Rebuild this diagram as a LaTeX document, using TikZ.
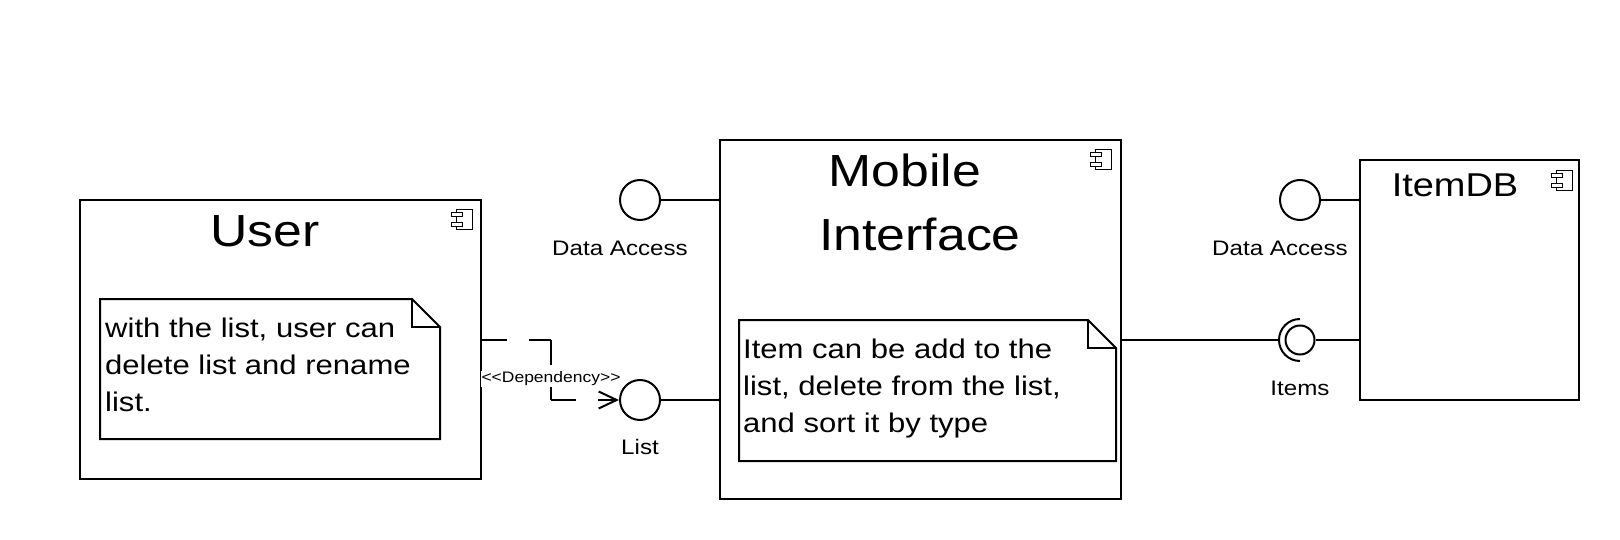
\documentclass[tikz,border=0pt]{standalone}
\usepackage{fontspec}
\setmainfont{Liberation Sans}[FakeStretch=1.15]
\usetikzlibrary{arrows.meta}
\begin{document}
\begin{tikzpicture}[x=1pt,y=-1pt,
  compbox/.style={draw, line width=2pt, rectangle, inner sep=0pt, fill=white},
  iface/.style={draw, line width=2pt, circle, inner sep=0pt, minimum size=40pt, fill=white},
  ballnode/.style={draw, line width=2pt, circle, inner sep=0pt, minimum size=29pt, fill=white},
  conn/.style={line width=2pt},
  dep/.style={line width=2pt, dash pattern=on 25pt off 22pt},
  notebox/.style={line width=2pt, fill=white},
  titlefont/.style={font=\fontsize{45}{64}\selectfont},
  notetext/.style={anchor=north west, align=left, inner sep=0pt, font=\fontsize{27}{37}\selectfont},
  lbl/.style={anchor=base, inner sep=0pt, font=\fontsize{21}{25}\selectfont},
  compicon/.pic={
    \draw[line width=1pt, fill=white] (5,0) rectangle (21,20);
    \draw[line width=1pt, fill=white] (0,2.7) rectangle (11,6.7);
    \draw[line width=1pt, fill=white] (0,12.7) rectangle (11,16.7);
  }]
\fill[white] (0,0) rectangle (1620,540);
\useasboundingbox (0,0) rectangle (1620,540);

% components
\node[compbox, minimum width=401pt, minimum height=279pt] (user) at (280.5,339.5) {};
\node[compbox, minimum width=401pt, minimum height=359pt] (mob) at (920.5,319.5) {};
\node[compbox, minimum width=219pt, minimum height=240pt] (db) at (1469.5,280) {};

\pic at (451,210) {compicon};
\pic at (1090,150) {compicon};
\pic at (1551,171) {compicon};

\node[titlefont, anchor=base, inner sep=0pt] (usert) at (265,247) {User};
\node[titlefont, anchor=north, align=center, inner sep=0pt] (mobt) at (920,154) {Mobile\hspace*{30pt}\\Interface};
\node[anchor=base, inner sep=0pt, font=\fontsize{33}{40}\selectfont] (dbt) at (1455,197) {ItemDB};

% notes
\coordinate (n1nw) at (100,299);
\coordinate (n1se) at (440,439);
\draw[notebox] (n1nw) -- ([xshift=-28pt]n1nw -| n1se) -- ([yshift=-28pt]n1nw -| n1se) -- (n1se) -- (n1nw |- n1se) -- cycle;
\draw[line width=2pt] ([xshift=-28pt]n1nw -| n1se) -- ([xshift=-28pt,yshift=-28pt]n1nw -| n1se) -- ([yshift=-28pt]n1nw -| n1se);
\node[notetext] (n1t) at (105,318) {with the list, user can\\delete list and rename\\list.};

\coordinate (n2nw) at (739,320);
\coordinate (n2se) at (1116,461);
\draw[notebox] (n2nw) -- ([xshift=-28pt]n2nw -| n2se) -- ([yshift=-28pt]n2nw -| n2se) -- (n2se) -- (n2nw |- n2se) -- cycle;
\draw[line width=2pt] ([xshift=-28pt]n2nw -| n2se) -- ([xshift=-28pt,yshift=-28pt]n2nw -| n2se) -- ([yshift=-28pt]n2nw -| n2se);
\node[notetext] (n2t) at (743,339) {Item can be add to the\\list, delete from the list,\\and sort it by type};

% interfaces
\node[iface] (da1) at (640,200) {};
\node[iface] (lst) at (640,400) {};
\node[iface] (da2) at (1300,200) {};
\node[ballnode] (itm) at (1300,340) {};

\draw[conn] (da1) -- (da1 -| mob.west);
\draw[conn] (lst) -- (lst -| mob.west);
\draw[conn] (da2) -- (da2 -| db.west);
\draw[conn] (itm) -- (itm -| db.west);
\coordinate (sock) at ([xshift=-21pt]itm.center);
\draw[conn] (mob.east |- itm) -- (sock);
\draw[conn] ([yshift=21pt]itm.center) arc[start angle=90, end angle=270, radius=21pt];

\node[lbl] (da1l) at (620,255) {Data Access};
\node[lbl] (lstl) at (640,454) {List};
\node[lbl] (da2l) at (1280,255) {Data Access};
\node[lbl] (itml) at (1300,395) {Items};

% dependency
\coordinate (c1) at (551,340);
\coordinate (c2) at (551,400);
\draw[dep] (user.east |- c1) -- (c1);
\draw[dep] (c1) -- (c2);
\draw[dep, -{Straight Barb[length=18pt,width=17pt]}] (c2) -- (lst.west);
\node[fill=white, inner sep=1pt, font=\fontsize{15.2}{18}\selectfont] (deplab) at (551,379) {<{}<Dependency>{}>};
\end{tikzpicture}
\end{document}
